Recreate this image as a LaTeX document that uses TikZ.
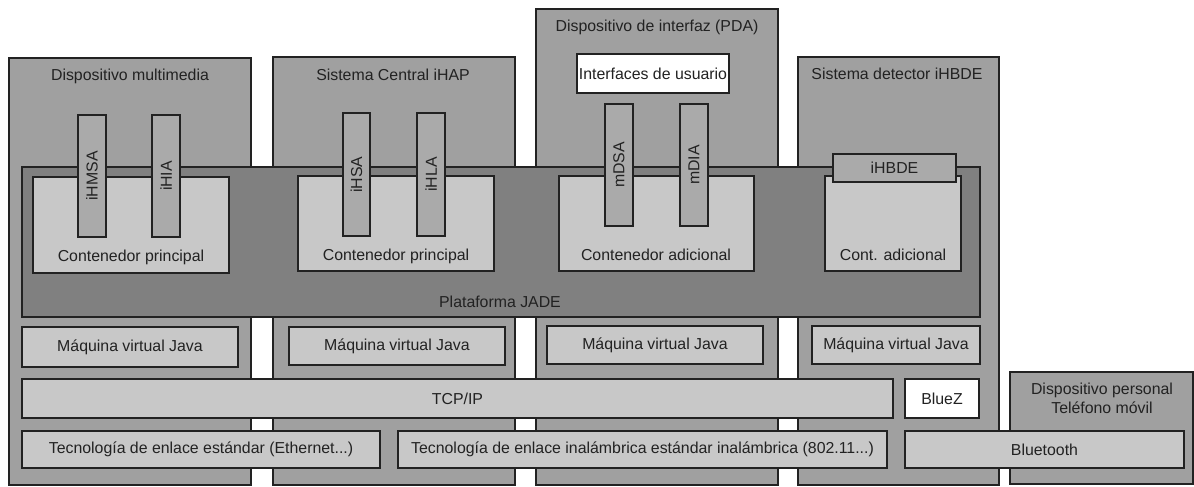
\documentclass[tikz,border=0pt]{standalone}
\usepackage{fontspec}
\setmainfont{Liberation Sans}
\usetikzlibrary{fit}
\definecolor{devgray}{HTML}{A0A0A0}
\definecolor{jadegray}{HTML}{808080}
\definecolor{contgray}{HTML}{C8C8C8}
\definecolor{agentgray}{HTML}{AAAAAA}
\definecolor{edge}{HTML}{222222}
\definecolor{txt}{HTML}{222222}
\begin{document}
\begin{tikzpicture}[x=0.75pt,y=-0.75pt,
  blk/.style={draw=edge, line width=1.1pt, inner sep=0pt},
  dev/.style={blk, fill=devgray},
  jade/.style={blk, fill=jadegray},
  cont/.style={blk, fill=contgray},
  agent/.style={blk, fill=agentgray},
  wbox/.style={blk, fill=white},
  lbl/.style={font=\fontsize{11.9}{14}\selectfont, text=txt, inner sep=0pt},
  vlbl/.style={lbl, rotate=90}]
\useasboundingbox (0,0) rectangle (1194,486);

% devices
\node[dev, fit={(9,58)(251,485)}] (dev1) {};
\node[dev, fit={(273,57)(515,485)}] (dev2) {};
\node[dev, fit={(536,9)(778,485)}] (dev3) {};
\node[dev, fit={(798,57)(999,485)}] (dev4) {};
\node[dev, fit={(1010,372)(1193,484)}] (dev5) {};

\node[lbl] (dev1l) at (130,76) {Dispositivo multimedia};
\node[lbl] (dev2l) at (393,75) {Sistema Central iHAP};
\node[lbl] (dev3l) at (657,27) {Dispositivo de interfaz (PDA)};
\node[lbl] (dev4l) at (897,74) {Sistema detector iHBDE};
\node[lbl, align=center] (dev5l) at (1102,398) {Dispositivo personal\\Teléfono móvil};

% user interfaces
\node[wbox, fit={(577,54)(729,93)}] (ui) {};
\node[lbl] (uil) at (ui.center) {Interfaces de usuario};

% JADE platform
\node[jade, fit={(22,167)(980,317)}] (jade) {};
\node[lbl] (jadel) at (500,302) {Plataforma JADE};

% containers
\node[cont, fit={(33,177)(229,273)}] (c1) {};
\node[cont, fit={(298,176)(494,271)}] (c2) {};
\node[cont, fit={(559,176)(754,271)}] (c3) {};
\node[cont, fit={(825,176)(961,271)}] (c4) {};
\node[lbl] (c1l) at (131,257) {Contenedor principal};
\node[lbl] (c2l) at (396,256) {Contenedor principal};
\node[lbl] (c3l) at (656,255) {Contenedor adicional};
\node[lbl] (c4l) at (893,255) {Cont. adicional};

% agents
\node[agent, fit={(78,115)(106,237)}] (a1) {};
\node[agent, fit={(152,115)(180,237)}] (a2) {};
\node[agent, fit={(343,113)(370,236)}] (a3) {};
\node[agent, fit={(417,113)(445,236)}] (a4) {};
\node[agent, fit={(605,104)(633,226)}] (a5) {};
\node[agent, fit={(680,104)(708,226)}] (a6) {};
\node[agent, fit={(833,154)(956,182)}] (a7) {};
\node[vlbl] (a1l) at (a1.center) {iHMSA};
\node[vlbl] (a2l) at (a2.center) {iHIA};
\node[vlbl] (a3l) at (a3.center) {iHSA};
\node[vlbl] (a4l) at (a4.center) {iHLA};
\node[vlbl] (a5l) at (a5.center) {mDSA};
\node[vlbl] (a6l) at (a6.center) {mDIA};
\node[lbl] (a7l) at (a7.center) {iHBDE};

% JVMs
\node[cont, fit={(22,327)(238,367)}] (j1) {};
\node[cont, fit={(289,327)(505,365)}] (j2) {};
\node[cont, fit={(547,326)(763,364)}] (j3) {};
\node[cont, fit={(812,326)(980,364)}] (j4) {};
\node[lbl] (j1l) at (j1.center) {Máquina virtual Java};
\node[lbl] (j2l) at (j2.center) {Máquina virtual Java};
\node[lbl] (j3l) at (j3.center) {Máquina virtual Java};
\node[lbl] (j4l) at (j4.center) {Máquina virtual Java};

% network
\node[cont, fit={(22,379)(893,418)}] (tcp) {};
\node[lbl] (tcpl) at (tcp.center) {TCP/IP};
\node[wbox, fit={(905,379)(979,418)}] (bluez) {};
\node[lbl] (bluezl) at (bluez.center) {BlueZ};

% link layer
\node[cont, fit={(22,431)(380,468)}] (eth) {};
\node[cont, fit={(398,431)(887,468)}] (wifi) {};
\node[cont, fit={(905,431)(1184,468)}] (bt) {};
\node[lbl] (ethl) at (eth.center) {Tecnología de enlace estándar (Ethernet...)};
\node[lbl] (wifil) at (wifi.center) {Tecnología de enlace inalámbrica estándar inalámbrica (802.11...)};
\node[lbl] (btl) at (bt.center) {Bluetooth};
\end{tikzpicture}
\end{document}
